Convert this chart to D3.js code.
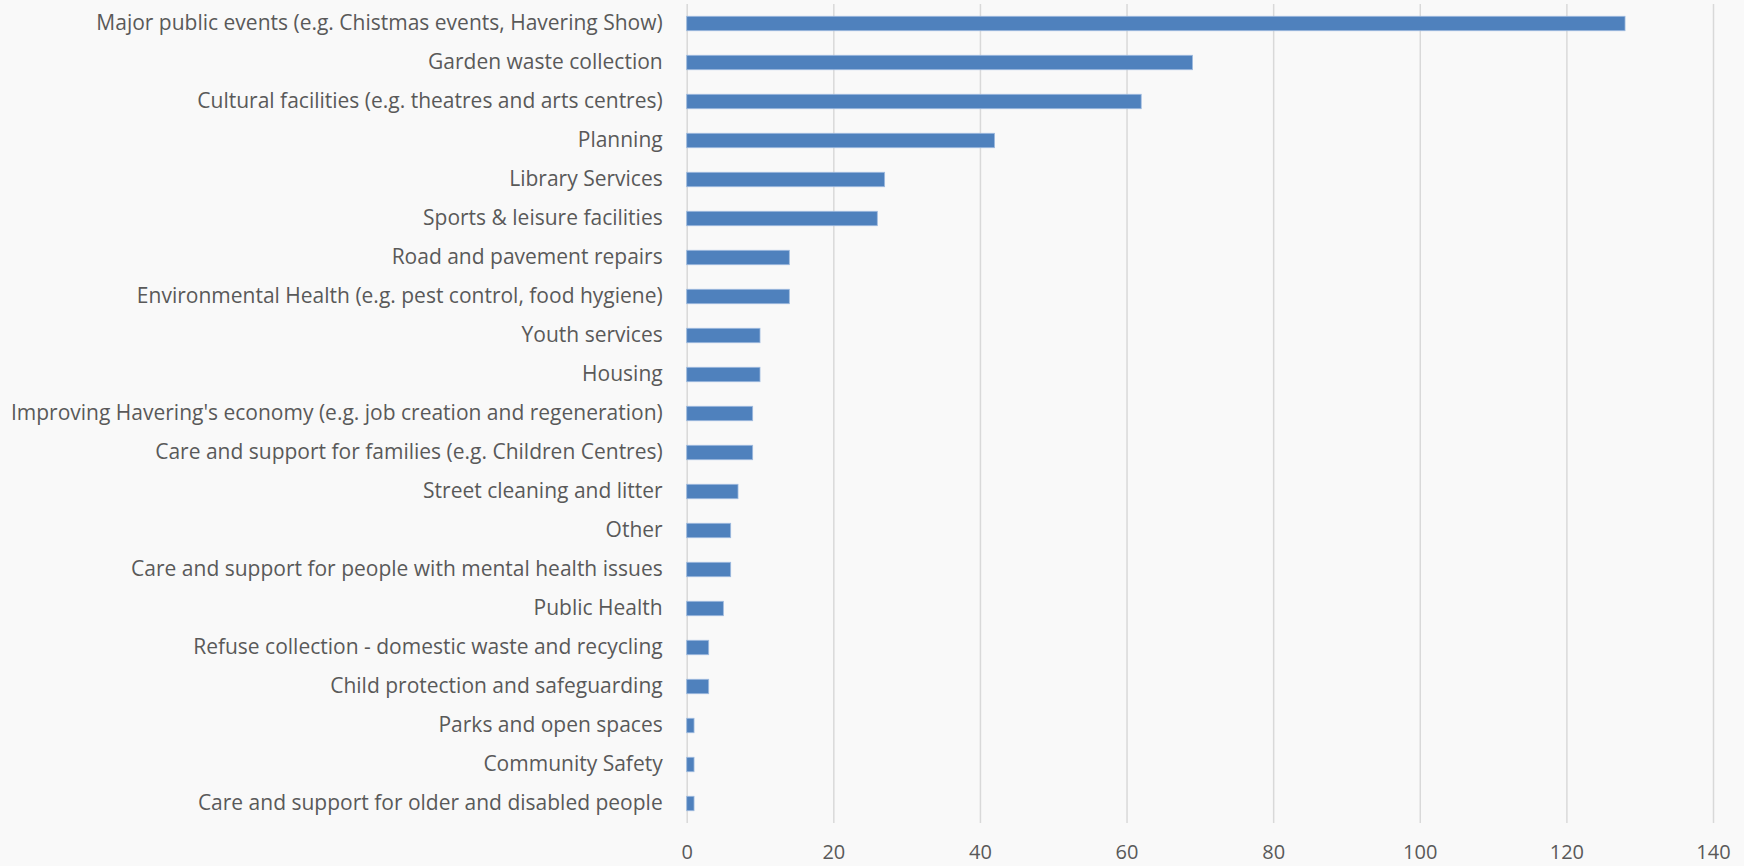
<!DOCTYPE html>
<html>
<head>
<meta charset="utf-8">
<script src="https://cdn.jsdelivr.net/npm/d3@7"></script>
<style>
  html, body { margin: 0; padding: 0; background: #f9f9f9; }
  svg { display: block; }
  .axis text { font-family: "Open Sans", sans-serif; fill: #595959; }
</style>
</head>
<body>
<svg id="chart" width="1744" height="866"></svg>
<script>
// Council services: number of responses per service
const categories = [
  "Major public events (e.g. Chistmas events, Havering Show)",
  "Garden waste collection",
  "Cultural facilities (e.g. theatres and arts centres)",
  "Planning",
  "Library Services",
  "Sports & leisure facilities",
  "Road and pavement repairs",
  "Environmental Health (e.g. pest control, food hygiene)",
  "Youth services",
  "Housing",
  "Improving Havering's economy (e.g. job creation and regeneration)",
  "Care and support for families (e.g. Children Centres)",
  "Street cleaning and litter",
  "Other",
  "Care and support for people with mental health issues",
  "Public Health",
  "Refuse collection - domestic waste and recycling",
  "Child protection and safeguarding",
  "Parks and open spaces",
  "Community Safety",
  "Care and support for older and disabled people"
];
const values = [128, 69, 62, 42, 27, 26, 14, 14, 10, 10, 9, 9, 7, 6, 6, 5, 3, 3, 1, 1, 1];
const xTicks = [0, 20, 40, 60, 80, 100, 120, 140];

const svg = d3.select("#chart");
const plotLeft = 686.7, plotRight = 1713, plotTop = 4, plotBottom = 823;

const x = d3.scaleLinear().domain([0, 140]).range([plotLeft, plotRight]);
const y = d3.scaleBand().domain(categories).range([plotTop, plotBottom])
  .paddingInner(0.63).paddingOuter(0.315);

// vertical gridlines with value labels underneath
const xAxis = svg.append("g")
  .attr("class", "axis x")
  .attr("transform", `translate(0,${plotBottom})`)
  .call(d3.axisBottom(x).tickValues(xTicks).tickFormat(d3.format("d"))
    .tickSize(-(plotBottom - plotTop)).tickPadding(22));
xAxis.select(".domain").remove();
xAxis.selectAll(".tick line").attr("stroke", "#d9d9d9").attr("stroke-width", 1.5);
xAxis.selectAll(".tick text").style("font-size", "20px");

// bars
svg.append("g")
  .selectAll("rect")
  .data(values)
  .join("rect")
  .attr("x", x(0))
  .attr("y", (d, i) => y(categories[i]))
  .attr("width", d => x(d) - x(0))
  .attr("height", y.bandwidth())
  .attr("fill", "#4f81bd")
  .attr("stroke", "#9fbbdf")
  .attr("stroke-width", 0.8);

// category labels
const yAxis = svg.append("g")
  .attr("class", "axis y")
  .attr("transform", `translate(${plotLeft},0)`)
  .call(d3.axisLeft(y).tickSize(0).tickPadding(24));
yAxis.select(".domain").remove();
yAxis.selectAll(".tick text").style("font-size", "21px");
</script>
</body>
</html>
